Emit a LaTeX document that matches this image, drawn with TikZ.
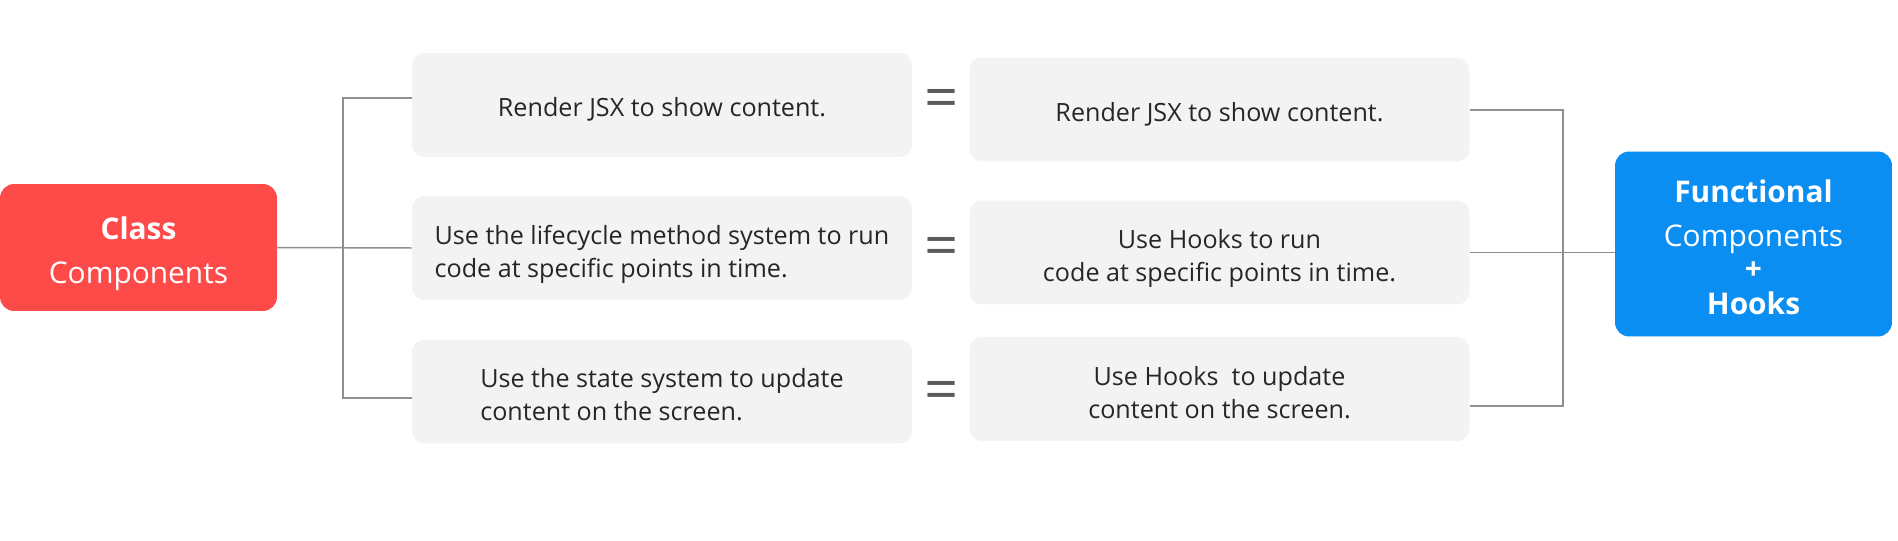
\documentclass[tikz,border=0pt]{standalone}
\usepackage{fontspec}
\setmainfont{Open Sans}
\usetikzlibrary{positioning}

\definecolor{cardgray}{HTML}{F3F3F3}
\definecolor{classred}{HTML}{FF4A4A}
\definecolor{funcblue}{HTML}{0A8EF2}
\definecolor{linegray}{HTML}{8E8E8E}
\definecolor{textgray}{HTML}{262626}
\definecolor{eqgray}{HTML}{5A5A5A}

% two lines of card text, set a little low as in the screenshot
\newcommand{\leftlines}[2]{\begin{tabular}{@{}l@{}}\rule{0pt}{20pt}#1\\#2\end{tabular}}
\newcommand{\midlines}[2]{\begin{tabular}{@{}c@{}}\rule{0pt}{20pt}#1\\#2\end{tabular}}

\tikzset{
  card/.style={fill=cardgray, rounded corners=7pt, inner sep=0pt,
    minimum width=10cm, minimum height=2.08cm, text=textgray,
    font=\fontsize{14.3}{18.8}\selectfont,
    execute at begin node={\rule{0pt}{16pt}}},
  bigbox/.style={rounded corners=8pt, inner sep=0pt, text=white,
    minimum width=5.54cm},
  eqsign/.style={text=eqgray, inner sep=0pt, font=\fontsize{34}{34}\selectfont},
  link/.style={draw=linegray, line width=0.85pt},
}

\begin{document}
\begin{tikzpicture}[x=0.02cm, y=-0.02cm]
\useasboundingbox (0,0) rectangle (1898,541);

% Define nodes
\path (138.5,247.5)
node[bigbox, fill=classred, minimum height=2.54cm,
  font=\fontsize{17}{24}\selectfont] (class)
  {\begin{tabular}{@{}c@{}}\rule{0pt}{23.6pt}\textbf{Class}\\[1pt]Components\end{tabular}}
(1753.5,244)
node[bigbox, fill=funcblue, minimum height=3.7cm,
  font=\fontsize{17}{20.5}\selectfont] (func)
  {\begin{tabular}{@{}c@{}}\rule{0pt}{22.5pt}\textbf{Functional}\\[4.5pt]Components\\[-2pt]\textbf{+}\\[-0.5pt]\textbf{Hooks}\end{tabular}}
;

\path (662,105) node[card] (l1) {Render JSX to show content.}
(662,248) node[card] (l2)
  {\leftlines{Use the lifecycle method system to run}{code at specific points in time.}}
(662,391.5) node[card] (l3)
  {\leftlines{Use the state system to update}{content on the screen.}}
;

\path (1219.5,109.5) node[card] (r1) {Render JSX to show content.}
(1219.5,252.5) node[card] (r2)
  {\midlines{Use Hooks to run}{code at specific points in time.}}
(1219.5,389) node[card] (r3)
  {\midlines{Use Hooks\ \ to update}{content on the screen.}}
;

\path (942,103.5) node[eqsign] (eq1) {=}
(942,251.5) node[eqsign] (eq2) {=}
(942,396) node[eqsign] (eq3) {=}
;

% Forks
\path (343,98) coordinate (ltop)
(343,398) coordinate (lbot)
(1563,110) coordinate (rtop)
(1563,406) coordinate (rbot)
;

\draw[link] (l1.west |- ltop) -- (ltop) -- (lbot) -- (l3.west |- lbot);
\draw[link] (class.east) -- (l2.west);
\draw[link] (r1.east |- rtop) -- (rtop) -- (rbot) -- (r3.east |- rbot);
\draw[link] (r2.east) -- (func.west |- r2.east);

\end{tikzpicture}
\end{document}
